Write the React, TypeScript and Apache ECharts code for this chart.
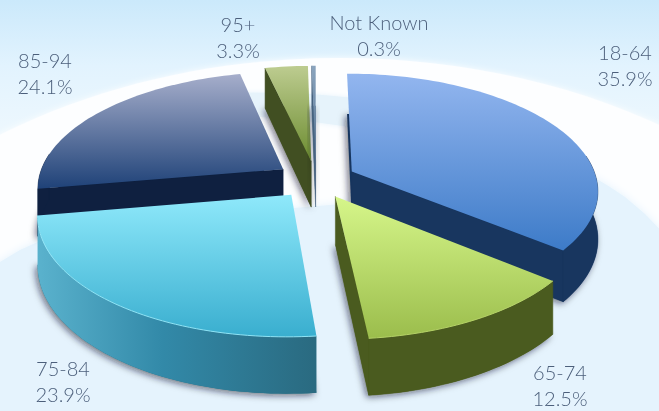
import React, { useEffect, useRef } from "react";
import * as echarts from "echarts";

// Age bands and their share of the total, clockwise from twelve o'clock.
const ageBands = ["18-64", "65-74", "75-84", "85-94", "95+", "Not Known"];
const shares = [35.9, 12.5, 23.9, 24.1, 3.3, 0.3];

type Palette = { light: string; dark: string; side: string; wall?: string[]; rim?: string };
const palettes: Palette[] = [
  { light: "#93b6ef", dark: "#3d7bc8", side: "#18365f" },
  { light: "#d6f68a", dark: "#9bbd4c", side: "#4a5b1f", rim: "#b5d267" },
  { light: "#8fe9fb", dark: "#39aecf", side: "#2a6b80", wall: ["#5ab2cd", "#3289a8", "#2a6a80"], rim: "#8fe4f6" },
  { light: "#a6aecb", dark: "#1f4278", side: "#0f2040" },
  { light: "#bdcc90", dark: "#6c8c30", side: "#414f22" },
  { light: "#8aa4be", dark: "#4f6f90", side: "#46627f" },
];

// Painter's order: rear slices first.
const paintOrder = [3, 4, 5, 0, 2, 1];

const labelAnchors: [number, number][] = [
  [625, 65], [560, 385], [63, 381], [45, 73], [238, 37], [379, 35],
];

// Perspective set-up for the tilted disc.
const CX = 316;
const CY = 179.5;
const RADIUS = 245;
const EXPLODE = 40;
const TILT = 0.47;
const DEPTH = 47;
const VIEW_DIST = 1600;

const rad = (deg: number) => (deg * Math.PI) / 180;

function project(X: number, Y: number, Z = 0): [number, number] {
  const f = 1 / (1 - Y / VIEW_DIST);
  return [CX + X * f, CY + (TILT * Y + Z) * f];
}

function sliceAngles(): [number, number][] {
  const total = shares.reduce((a, b) => a + b, 0);
  let acc = 0;
  return shares.map((v) => {
    const a0 = (acc / total) * 360;
    acc += v;
    return [a0, (acc / total) * 360];
  });
}

function renderSlice(params: any) {
  const i = params.dataIndex;
  const [a0, a1] = sliceAngles()[i];
  const mid = rad((a0 + a1) / 2);
  const ox = EXPLODE * Math.sin(mid);
  const oy = -EXPLODE * Math.cos(mid);
  const rim = (deg: number, z = 0) =>
    project(ox + RADIUS * Math.sin(rad(deg)), oy - RADIUS * Math.cos(rad(deg)), z);
  const apex = (z = 0) => project(ox, oy, z);
  const arc = (from: number, to: number, z = 0) => {
    const n = Math.max(1, Math.ceil((to - from) / 1.5));
    return Array.from({ length: n + 1 }, (_, k) => rim(from + ((to - from) * k) / n, z));
  };

  const pal = palettes[i];
  const base = paintOrder.indexOf(i) * 10;
  const children: any[] = [];

  // Underside carries the soft drop shadow so that no seam shows on the faces.
  children.push({
    type: "polygon",
    z2: base,
    shape: { points: [apex(DEPTH), ...arc(a0, a1, DEPTH)] },
    style: {
      fill: pal.side,
      shadowBlur: 7,
      shadowColor: "rgba(10,20,40,0.6)",
      shadowOffsetX: -2,
      shadowOffsetY: 2,
    },
  });

  // Cut faces that look toward the viewer.
  const cut = (deg: number) => ({
    type: "polygon",
    z2: base + 1,
    shape: { points: [apex(), rim(deg), rim(deg, DEPTH), apex(DEPTH)] },
    style: { fill: pal.side, stroke: pal.side, lineWidth: 0.5 },
  });
  if (Math.sin(rad(a0)) < -1e-6) children.push(cut(a0));
  if (Math.sin(rad(a1)) > 1e-6) children.push(cut(a1));

  // Outer wall, front half of the rim only.
  const w0 = Math.max(a0, 82);
  const w1 = Math.min(a1, 278);
  if (w1 > w0) {
    const pts = [...arc(w0, w1), ...arc(w0, w1, DEPTH).reverse()];
    const fill = pal.wall
      ? new echarts.graphic.LinearGradient(0, 0, 1, 0, [
          { offset: 0, color: pal.wall[0] },
          { offset: 0.45, color: pal.wall[1] },
          { offset: 1, color: pal.wall[2] },
        ])
      : pal.side;
    children.push({
      type: "polygon",
      z2: base + 2,
      shape: { points: pts },
      style: { fill, stroke: pal.side, lineWidth: pal.wall ? 0 : 0.5 },
    });
  }

  // Top face.
  children.push({
    type: "polygon",
    z2: base + 3,
    shape: { points: [apex(), ...arc(a0, a1)] },
    style: {
      fill: new echarts.graphic.LinearGradient(0, 0, 0, 1, [
        { offset: 0, color: pal.light },
        { offset: 1, color: pal.dark },
      ]),
    },
  });

  // Thin highlight along the front edge.
  if (pal.rim && w1 > w0) {
    children.push({
      type: "polyline",
      z2: base + 4,
      shape: { points: arc(w0, w1) },
      style: { fill: "none", stroke: pal.rim, lineWidth: 1 },
    });
  }

  // Band name and share.
  const [lx, ly] = labelAnchors[i];
  children.push({
    type: "text",
    z2: 100,
    x: lx,
    y: ly,
    style: {
      text: `${ageBands[i]}\n${shares[i].toFixed(1)}%`,
      textAlign: "center",
      textVerticalAlign: "middle",
      fontFamily: "Lato",
      fontSize: 20,
      fontWeight: 300,
      lineHeight: 26,
      fill: "#4c5f7b",
    },
  });

  return { type: "group", children };
}

export default function App() {
  const ref = useRef<HTMLDivElement>(null);
  useEffect(() => {
    const chart = echarts.init(ref.current!, null, { renderer: "svg" });
    chart.setOption({
      animation: false,
      graphic: [
        {
          type: "rect",
          z: 0,
          shape: { x: 0, y: 0, width: 659, height: 411 },
          style: {
            fill: new echarts.graphic.LinearGradient(0, 0, 0, 1, [
              { offset: 0, color: "#cbe9fb" },
              { offset: 0.16, color: "#e2f3fe" },
              { offset: 0.34, color: "#eef8fe" },
              { offset: 1, color: "#eef8fe" },
            ]),
          },
        },
        {
          type: "ellipse",
          z: 0,
          shape: { cx: 340, cy: 495, rx: 600, ry: 437 },
          style: { fill: "#fdfeff", shadowBlur: 6, shadowColor: "#fdfeff" },
        },
        // Faint band crossing behind the slices.
        {
          type: "polygon",
          z: 0,
          shape: { points: [[200, 92], [300, 93], [400, 102], [400, 134], [300, 120], [200, 112]] },
          style: { fill: "#e6f3fb", shadowBlur: 5, shadowColor: "#e6f3fb" },
        },
        // Pale swoosh across the lower part of the backdrop.
        {
          type: "polygon",
          z: 0,
          shape: {
            points: [
              [-10, 270], [0, 262], [20, 250], [40, 241], [130, 222], [330, 205], [500, 190],
              [595, 178], [610, 187], [625, 197], [645, 214], [670, 240], [670, 421], [-10, 421],
            ],
          },
          style: { fill: "#e5f3fd", shadowBlur: 8, shadowColor: "#e5f3fd" },
        },
      ],
      series: [
        {
          type: "custom",
          coordinateSystem: "none",
          silent: true,
          data: shares,
          renderItem: renderSlice,
        },
      ],
    });
    return () => chart.dispose();
  }, []);
  return (
    <div
      ref={ref}
      style={{ position: "fixed", left: 0, top: 0, width: 659, height: 411 }}
    />
  );
}
